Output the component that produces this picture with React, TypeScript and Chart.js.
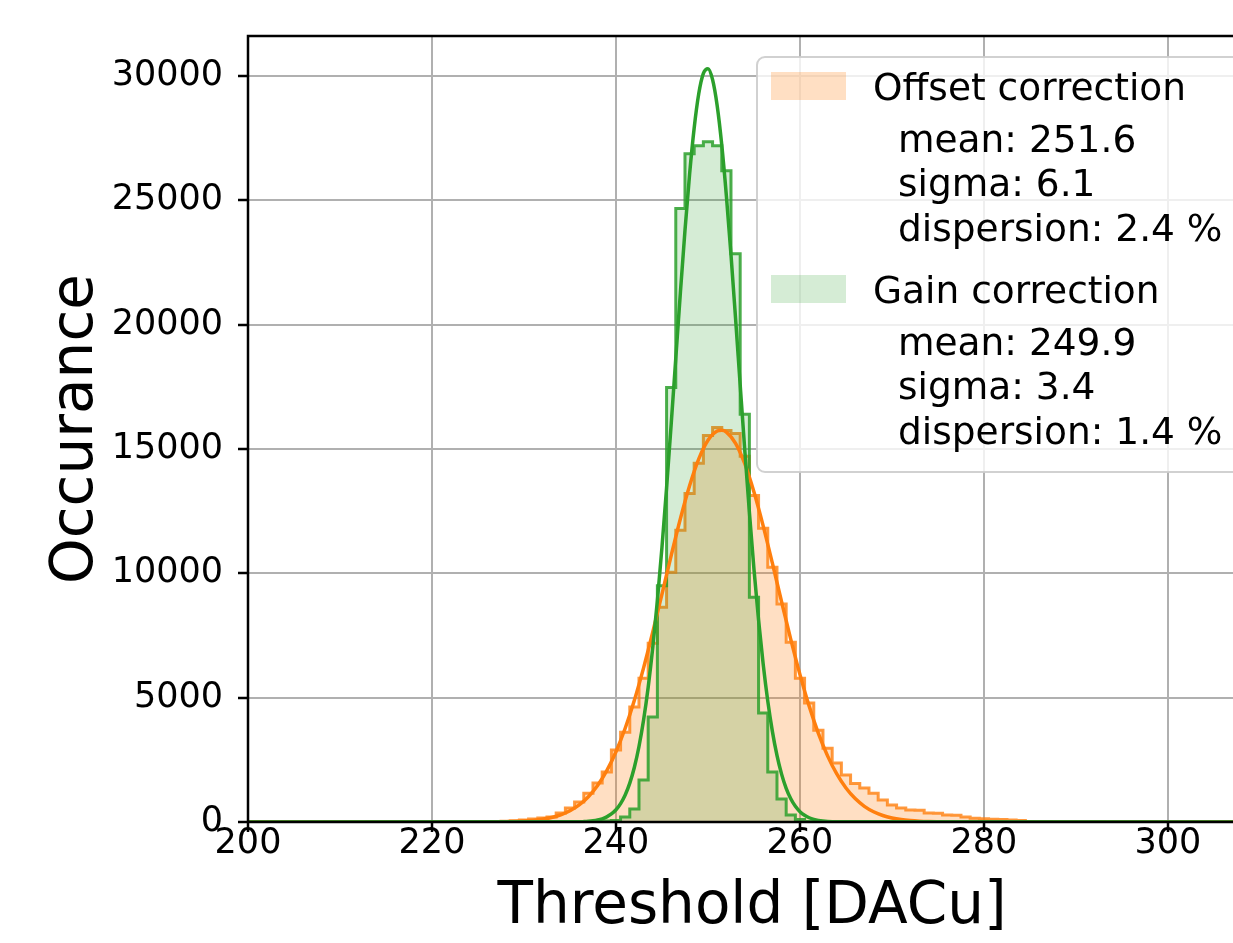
import React, { useEffect, useRef } from 'react';
import { Chart, registerables } from 'chart.js';

Chart.register(...registerables);

// ---- Data ----
const offsetBinCenters = [
  226, 227, 228, 229, 230, 231, 232, 233, 234, 235, 236, 237, 238, 239, 240, 241, 242, 243, 244, 245,
  246, 247, 248, 249, 250, 251, 252, 253, 254, 255, 256, 257, 258, 259, 260, 261, 262, 263, 264, 265,
  266, 267, 268, 269, 270, 271, 272, 273, 274, 275, 276, 277, 278, 279, 280, 281, 282, 283, 284, 285,
];
const offsetCounts = [
  0, 20, 30, 50, 80, 120, 160, 200, 360, 560, 800, 1160, 1570, 2010, 2890, 3610, 4620, 5780, 7190, 8630,
  10040, 11730, 13210, 14420, 15540, 15860, 15740, 15620, 14700, 13130, 11810, 10240, 8760, 7230, 5780, 4780, 3690, 2970, 2370, 1890,
  1550, 1370, 1160, 880, 680, 560, 480, 470, 360, 350, 280, 270, 200, 150, 130, 110, 100, 80, 60, 0,
];

const gainBinCenters = [
  238, 239, 240, 241, 242, 243, 244, 245, 246, 247, 248, 249, 250, 251, 252, 253, 254, 255, 256, 257,
  258, 259, 260, 261, 262,
];
const gainCounts = [
  0, 40, 60, 200, 520, 1690, 4220, 9500, 17470, 24660, 26870, 27190, 27350, 27190, 26180, 22850, 16390, 9040, 4380, 2010,
  920, 280, 100, 20, 0,
];

const offsetFitX = [
  200, 225, 226, 227, 228, 229, 230, 231, 232, 233, 234, 235, 236, 237, 238, 239, 240, 241, 242, 243,
  244, 245, 246, 247, 248, 249, 250, 251, 251.5, 252, 253, 254, 255, 256, 257, 258, 259, 260, 261, 262,
  263, 264, 265, 266, 267, 268, 269, 270, 271, 272, 273, 274, 275, 276, 315,
];
const offsetFitY = [
  0, 2, 3, 6, 11, 21, 37, 64, 109, 179, 288, 450, 685, 1016, 1466, 2062, 2826, 3769, 4898, 6198,
  7637, 9165, 10712, 12194, 13518, 14596, 15347, 15717, 15750, 15676, 15225, 14403, 13271, 11907, 10406, 8856, 7341, 5925, 4659, 3566,
  2659, 1931, 1366, 941, 631, 412, 262, 163, 98, 58, 33, 18, 10, 5, 0,
];

const gainFitX = [
  200, 236, 236.5, 237, 237.5, 238, 238.5, 239, 239.5, 240, 240.5, 241, 241.5, 242, 242.5, 243, 243.5, 244, 244.5, 245,
  245.5, 246, 246.5, 247, 247.5, 248, 248.5, 249, 249.5, 250, 250.5, 251, 251.5, 252, 252.5, 253, 253.5, 254, 254.5, 255,
  255.5, 256, 256.5, 257, 257.5, 258, 258.5, 259, 259.5, 260, 260.5, 261, 261.5, 262, 263, 264, 315,
];
const gainFitY = [
  0, 9, 16, 28, 47, 79, 129, 206, 322, 493, 740, 1087, 1563, 2203, 3036, 4100, 5420, 7018, 8899, 11047,
  13432, 15992, 18644, 21280, 23786, 26037, 27903, 29288, 30097, 30287, 29846, 28797, 27210, 25176, 22810, 20234, 17577, 14953, 12456, 10160,
  8114, 6348, 4860, 3645, 2675, 1924, 1354, 934, 631, 417, 270, 171, 106, 65, 22, 7, 0,
];

const xTickValues = [200, 220, 240, 260, 280, 300];
const yTickValues = [0, 5000, 10000, 15000, 20000, 25000, 30000];

const legendLabels = ['Offset correction', 'Gain correction'];
const legendMeans = ['251.6', '249.9'];
const legendSigmas = ['6.1', '3.4'];
const legendDispersions = ['2.4 %', '1.4 %'];

const xTitle = 'Threshold [DACu]';
const yTitle = 'Occurance';

// ---- Styles ----
const FONT = "'DejaVu Sans', sans-serif";
const ORANGE = '#ff7f0e';
const GREEN = '#2ca02c';
const ORANGE_FILL = 'rgba(255,127,14,0.25)';
const GREEN_FILL = 'rgba(44,160,44,0.2)';

function stepPoints(centers: number[], counts: number[]) {
  const pts = centers.map((c, i) => ({ x: c - 0.5, y: counts[i] }));
  pts.push({ x: centers[centers.length - 1] + 0.5, y: 0 });
  return pts;
}

function linePoints(xs: number[], ys: number[]) {
  return xs.map((x, i) => ({ x, y: ys[i] }));
}

const framePlugin = {
  id: 'frameAndLegend',
  afterDraw(chart: any) {
    const { ctx, chartArea } = chart;
    const { left, top, bottom, right } = chartArea;
    ctx.save();
    // spines
    ctx.strokeStyle = '#000';
    ctx.lineWidth = 2.5;
    ctx.beginPath();
    ctx.moveTo(left, bottom);
    ctx.lineTo(left, top);
    ctx.lineTo(right, top);
    ctx.moveTo(left, bottom);
    ctx.lineTo(right, bottom);
    ctx.stroke();

    // legend box
    const bx = left + 509;
    const by = top + 21;
    const bw = 540;
    const bh = 415;
    ctx.beginPath();
    if (ctx.roundRect) ctx.roundRect(bx, by, bw, bh, 8);
    else ctx.rect(bx, by, bw, bh);
    ctx.fillStyle = 'rgba(255,255,255,0.8)';
    ctx.fill();
    ctx.strokeStyle = 'rgba(204,204,204,0.9)';
    ctx.lineWidth = 2;
    ctx.stroke();

    const fills = [ORANGE_FILL, GREEN_FILL];
    ctx.font = `37.5px ${FONT}`;
    ctx.textAlign = 'left';
    ctx.textBaseline = 'alphabetic';
    for (let i = 0; i < legendLabels.length; i++) {
      const oy = by + i * 203;
      ctx.fillStyle = fills[i];
      ctx.fillRect(bx + 14, oy + 15, 75, 28);
      ctx.fillStyle = '#000';
      ctx.fillText(legendLabels[i], bx + 116, oy + 43);
      ctx.fillText('mean: ' + legendMeans[i], bx + 141, oy + 95);
      ctx.fillText('sigma: ' + legendSigmas[i], bx + 141, oy + 139);
      ctx.fillText('dispersion: ' + legendDispersions[i], bx + 141, oy + 184);
    }
    ctx.restore();
  },
};

const CANVAS_W = 1256;
const CANVAS_H = 943;

export default function App() {
  const canvasRef = useRef<HTMLCanvasElement | null>(null);

  useEffect(() => {
    if (!canvasRef.current) return;
    Chart.defaults.font.family = FONT;
    const chart = new Chart(canvasRef.current, {
      type: 'line',
      data: {
        datasets: [
          {
            label: 'Gain fit',
            data: linePoints(gainFitX, gainFitY),
            borderColor: GREEN,
            borderWidth: 3.5,
            pointRadius: 0,
            fill: false,
            cubicInterpolationMode: 'monotone',
            order: 1,
          },
          {
            label: 'Offset fit',
            data: linePoints(offsetFitX, offsetFitY),
            borderColor: ORANGE,
            borderWidth: 3.5,
            pointRadius: 0,
            fill: false,
            cubicInterpolationMode: 'monotone',
            order: 2,
          },
          {
            label: 'Gain correction',
            data: stepPoints(gainBinCenters, gainCounts),
            borderColor: 'rgba(44,160,44,0.85)',
            backgroundColor: GREEN_FILL,
            borderWidth: 3,
            pointRadius: 0,
            fill: 'origin',
            stepped: 'before',
            order: 3,
          },
          {
            label: 'Offset correction',
            data: stepPoints(offsetBinCenters, offsetCounts),
            borderColor: 'rgba(255,127,14,0.8)',
            backgroundColor: ORANGE_FILL,
            borderWidth: 3,
            pointRadius: 0,
            fill: 'origin',
            stepped: 'before',
            order: 4,
          },
        ] as any,
      },
      options: {
        animation: false,
        responsive: false,
        devicePixelRatio: 1,
        layout: { padding: { left: 0, right: 0, top: 36, bottom: 0 } },
        plugins: { legend: { display: false }, tooltip: { enabled: false } },
        scales: {
          x: {
            type: 'linear',
            min: 200,
            max: 309.57,
            afterFit: (s: any) => {
              s.height = 121;
            },
            afterBuildTicks: (s: any) => {
              s.ticks = xTickValues.map((v) => ({ value: v }));
            },
            ticks: {
              maxRotation: 0,
              autoSkip: false,
              color: '#000',
              padding: -9,
              font: { size: 35, family: FONT },
              callback: (v: any) => String(v),
            },
            grid: {
              color: '#b0b0b0',
              lineWidth: 2,
              tickLength: 10,
              tickColor: '#000',
              tickWidth: 2.5,
            },
            border: { display: false },
            title: {
              display: true,
              text: xTitle,
              color: '#000',
              font: { size: 58, family: FONT, lineHeight: 1.2 },
              padding: { top: 0, bottom: 0 },
            },
          },
          y: {
            type: 'linear',
            min: 0,
            max: 31600,
            afterFit: (s: any) => {
              s.width = 248;
            },
            afterBuildTicks: (s: any) => {
              s.ticks = yTickValues.map((v) => ({ value: v }));
            },
            ticks: {
              color: '#000',
              padding: 15,
              font: { size: 35, family: FONT },
              callback: (v: any) => String(v),
            },
            grid: {
              color: '#b0b0b0',
              lineWidth: 2,
              tickLength: 10,
              tickColor: '#000',
              tickWidth: 2.5,
            },
            border: { display: false },
            title: {
              display: true,
              text: yTitle,
              color: '#000',
              font: { size: 58, family: FONT, lineHeight: 1.2 },
              padding: { top: 42, bottom: 0 },
            },
          },
        },
      } as any,
      plugins: [framePlugin],
    });
    return () => chart.destroy();
  }, []);

  return (
    <div
      style={{
        position: 'fixed',
        left: 0,
        top: 0,
        width: 1233,
        height: CANVAS_H,
        overflow: 'hidden',
        background: '#fff',
      }}
    >
      <canvas
        ref={canvasRef}
        width={CANVAS_W}
        height={CANVAS_H}
        style={{ display: 'block', width: CANVAS_W, height: CANVAS_H }}
      />
    </div>
  );
}
